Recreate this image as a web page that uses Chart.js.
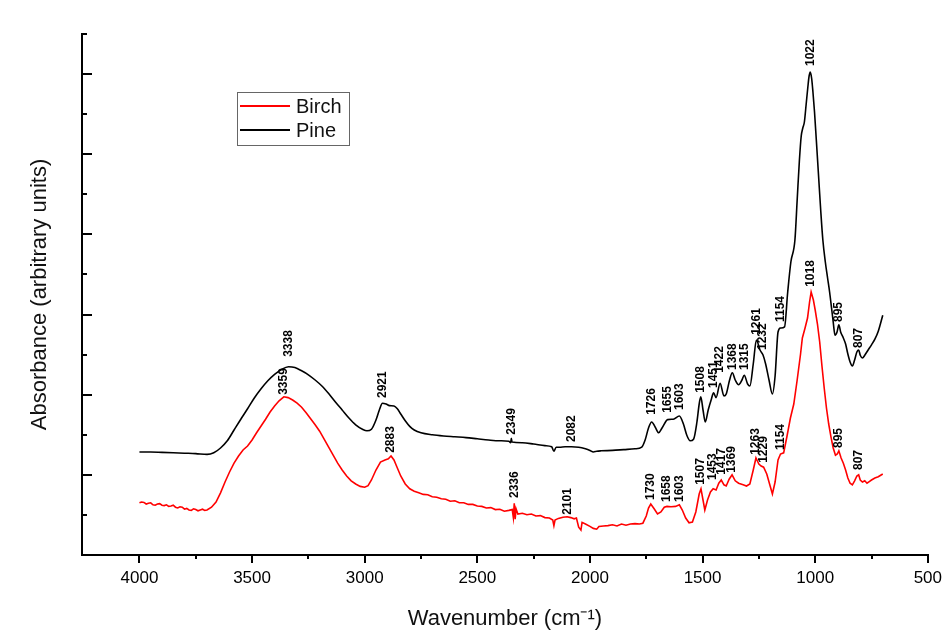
<!DOCTYPE html>
<html>
<head>
<meta charset="utf-8">
<script src="https://cdn.jsdelivr.net/npm/chart.js@4.4.1/dist/chart.umd.min.js"></script>
<style>
  html, body { margin: 0; padding: 0; background: #ffffff; }
  #wrap { width: 947px; height: 632px; position: relative; }
</style>
</head>
<body>
<div id="wrap"><canvas id="c" width="947" height="632"></canvas></div>
<script>
// ---------- DATA ----------
const seriesNames = ['Birch', 'Pine'];

const pineWavenumbers = [4000,3950,3900,3850,3800,3750,3700,3670,3640,3610,3580,3550,3520,3490,3460,3430,3400,3370,3338,3310,3280,3250,3220,3190,3160,3130,3100,3070,3040,3010,2990,2970,2950,2935,2921,2905,2890,2870,2855,2840,2820,2800,2780,2750,2700,2650,2600,2550,2500,2450,2400,2360,2352,2349,2346,2300,2250,2200,2170,2160,2150,2135,2110,2082,2050,2020,2000,1985,1970,1950,1900,1850,1800,1770,1755,1740,1726,1710,1695,1680,1655,1630,1603,1585,1570,1555,1540,1525,1515,1508,1498,1488,1475,1462,1451,1440,1422,1405,1395,1380,1368,1355,1340,1325,1315,1300,1290,1275,1261,1245,1232,1220,1205,1190,1178,1165,1154,1136,1122,1108,1090,1080,1070,1062,1055,1048,1040,1033,1027,1022,1016,1010,1003,995,985,975,966,955,945,936,928,920,912,903,895,887,875,865,855,845,835,825,815,807,800,790,780,765,750,735,720,700];
const pineValues = [2.50,2.50,2.49,2.48,2.47,2.46,2.44,2.48,2.60,2.78,3.05,3.32,3.58,3.85,4.08,4.28,4.44,4.56,4.63,4.61,4.53,4.43,4.30,4.15,3.96,3.75,3.55,3.35,3.18,3.07,3.03,3.07,3.30,3.55,3.72,3.70,3.66,3.65,3.58,3.45,3.28,3.14,3.05,2.98,2.93,2.90,2.88,2.86,2.83,2.80,2.78,2.77,2.73,2.84,2.75,2.73,2.70,2.66,2.63,2.52,2.62,2.62,2.63,2.63,2.62,2.58,2.54,2.50,2.52,2.53,2.54,2.56,2.58,2.62,2.80,3.10,3.25,3.12,2.98,3.10,3.31,3.32,3.40,3.20,2.92,2.78,2.82,3.25,3.70,3.88,3.55,3.25,3.55,3.80,3.98,3.86,4.22,3.90,3.95,4.30,4.48,4.30,4.18,4.30,4.42,4.20,4.15,4.70,5.30,5.05,4.93,4.70,4.30,3.95,4.40,5.50,5.60,5.63,6.50,7.25,7.80,8.80,9.80,10.40,10.60,10.75,11.20,11.60,11.90,12.00,11.85,11.50,11.00,10.30,9.40,8.50,7.80,7.25,6.85,6.50,6.13,5.75,5.42,5.50,5.68,5.50,5.35,5.20,4.95,4.75,4.65,4.80,5.00,5.05,4.92,4.85,4.92,5.05,5.18,5.32,5.52,5.92];

const birchWavenumbers = [4000,3990,3980,3970,3960,3950,3940,3930,3920,3910,3900,3890,3880,3870,3860,3850,3840,3830,3820,3810,3800,3790,3780,3770,3760,3750,3740,3730,3720,3710,3700,3680,3660,3640,3620,3600,3580,3560,3540,3520,3500,3480,3460,3440,3420,3400,3380,3359,3340,3320,3300,3280,3260,3240,3220,3200,3180,3160,3140,3120,3100,3080,3060,3040,3020,3000,2985,2970,2950,2930,2910,2895,2883,2870,2855,2840,2820,2800,2780,2760,2740,2720,2700,2680,2660,2640,2620,2600,2580,2560,2540,2520,2500,2480,2460,2440,2420,2400,2380,2360,2345,2340,2336,2332,2328,2320,2300,2280,2260,2240,2220,2200,2180,2165,2160,2155,2140,2120,2101,2085,2070,2060,2050,2040,2035,2020,2000,1985,1970,1960,1940,1920,1900,1880,1860,1840,1820,1800,1780,1765,1750,1740,1730,1715,1700,1685,1670,1658,1640,1620,1603,1590,1575,1560,1545,1530,1515,1507,1498,1490,1478,1465,1453,1440,1428,1417,1405,1395,1382,1369,1355,1340,1320,1305,1290,1275,1263,1250,1240,1229,1215,1200,1190,1178,1165,1154,1140,1125,1110,1095,1080,1065,1057,1045,1034,1025,1018,1008,1000,990,980,970,960,950,940,930,920,910,902,895,885,875,865,855,845,835,825,815,807,800,790,780,770,760,750,735,720,700];
const birchValues = [1.23,1.25,1.24,1.20,1.22,1.23,1.18,1.17,1.20,1.21,1.17,1.16,1.18,1.14,1.15,1.17,1.12,1.10,1.13,1.12,1.07,1.09,1.05,1.04,1.08,1.06,1.03,1.05,1.07,1.04,1.05,1.12,1.25,1.48,1.75,2.00,2.22,2.40,2.55,2.65,2.80,2.98,3.15,3.32,3.50,3.65,3.78,3.88,3.86,3.80,3.72,3.62,3.48,3.33,3.18,3.02,2.82,2.62,2.42,2.22,2.05,1.90,1.78,1.70,1.64,1.62,1.66,1.80,2.05,2.25,2.30,2.33,2.40,2.30,2.10,1.90,1.70,1.58,1.52,1.48,1.44,1.43,1.38,1.37,1.33,1.32,1.27,1.28,1.23,1.23,1.19,1.19,1.15,1.14,1.10,1.11,1.06,1.07,1.02,1.04,1.06,0.86,1.22,0.82,1.08,0.95,0.97,0.93,0.95,0.90,0.91,0.86,0.85,0.80,0.66,0.80,0.84,0.87,0.88,0.86,0.83,0.85,0.62,0.55,0.74,0.70,0.64,0.59,0.57,0.64,0.65,0.66,0.68,0.65,0.70,0.67,0.70,0.71,0.70,0.72,0.90,1.10,1.20,1.08,0.95,1.00,1.12,1.14,1.13,1.14,1.18,1.05,0.85,0.73,0.75,1.00,1.45,1.58,1.30,1.05,1.30,1.50,1.58,1.55,1.72,1.80,1.68,1.65,1.82,1.93,1.78,1.72,1.68,1.65,1.70,2.05,2.35,2.20,2.15,2.12,1.95,1.65,1.45,1.75,2.30,2.45,2.48,2.90,3.35,3.70,4.30,4.95,5.35,5.60,5.85,6.25,6.50,6.30,6.05,5.70,5.25,4.65,4.10,3.60,3.20,2.88,2.60,2.42,2.45,2.53,2.35,2.22,2.05,1.85,1.72,1.68,1.78,1.90,1.93,1.80,1.75,1.78,1.72,1.76,1.80,1.85,1.88,1.95];

// peak annotations: wavenumber and the value at which the label starts
const pineLabelWavenumbers = [3338,2921,2349,2082,1726,1655,1603,1508,1451,1422,1368,1315,1261,1232,1154,1022,895,807];
const pineLabelValues = [4.88,3.85,2.93,2.75,3.43,3.48,3.55,3.98,4.10,4.48,4.55,4.55,5.43,5.05,5.75,12.15,5.75,5.10];
const birchLabelWavenumbers = [3359,2883,2336,2101,1730,1658,1603,1507,1453,1417,1369,1263,1229,1154,1018,895,807];
const birchLabelValues = [3.93,2.48,1.35,0.93,1.30,1.25,1.25,1.68,1.80,1.93,1.98,2.43,2.23,2.55,6.63,2.60,2.05];

const xMajorTicks = [4000,3500,3000,2500,2000,1500,1000,500];
const xMinorTicks = [3750,3250,2750,2250,1750,1250,750];

// ---------- HELPERS ----------
function toPoints(xs, ys) { return xs.map((x, i) => ({ x: x, y: ys[i] })); }

const Y_MIN = -0.075, Y_MAX = 12.95, Y_DIVS = 13;

const extrasPlugin = {
  id: 'extras',
  afterDraw(chart) {
    const ctx = chart.ctx;
    const xs = chart.scales.x, ys = chart.scales.y;
    const area = chart.chartArea;
    ctx.save();
    // y ticks (inward), alternating major/minor
    ctx.strokeStyle = '#000';
    ctx.lineWidth = 2;
    for (let k = 1; k <= Y_DIVS; k++) {
      const v = Y_MIN + k * (Y_MAX - Y_MIN) / Y_DIVS;
      const py = Math.round(ys.getPixelForValue(v));
      const len = (k % 2 === 0) ? 10 : 5;
      ctx.beginPath();
      ctx.moveTo(area.left, py);
      ctx.lineTo(area.left + len, py);
      ctx.stroke();
    }
    // x minor ticks (outward)
    xMinorTicks.forEach(w => {
      const px = Math.round(xs.getPixelForValue(w));
      ctx.beginPath();
      ctx.moveTo(px, area.bottom);
      ctx.lineTo(px, area.bottom + 4);
      ctx.stroke();
    });
    // peak labels
    ctx.fillStyle = '#000';
    ctx.font = 'bold 12px "Liberation Sans", Arial, sans-serif';
    ctx.textAlign = 'left';
    ctx.textBaseline = 'middle';
    const drawLabels = (wns, vals) => {
      wns.forEach((w, i) => {
        const px = xs.getPixelForValue(w);
        const py = ys.getPixelForValue(vals[i]);
        ctx.save();
        ctx.translate(px, py);
        ctx.rotate(-Math.PI / 2);
        ctx.fillText(String(w), 0, 0);
        ctx.restore();
      });
    };
    drawLabels(pineLabelWavenumbers, pineLabelValues);
    drawLabels(birchLabelWavenumbers, birchLabelValues);

    // legend box
    const bx = 237, by = 92, bw = 112, bh = 53;
    ctx.strokeStyle = '#666';
    ctx.lineWidth = 1;
    ctx.strokeRect(bx + 0.5, by + 0.5, bw, bh);
    const ds = chart.data.datasets;
    const rows = [106, 130];
    ctx.font = '20px "Liberation Sans", Arial, sans-serif';
    ctx.textBaseline = 'middle';
    ds.forEach((d, i) => {
      ctx.strokeStyle = d.borderColor;
      ctx.lineWidth = 1.8;
      ctx.beginPath();
      ctx.moveTo(bx + 3, rows[i]);
      ctx.lineTo(bx + 53, rows[i]);
      ctx.stroke();
      ctx.fillStyle = '#111';
      ctx.fillText(d.label, bx + 59, rows[i] + 1);
    });
    ctx.restore();
  }
};

new Chart(document.getElementById('c'), {
  type: 'line',
  data: {
    datasets: [
      {
        label: seriesNames[0],
        data: toPoints(birchWavenumbers, birchValues),
        borderColor: '#ff0000',
        borderWidth: 1.6,
        pointRadius: 0,
        tension: 0,
        fill: false
      },
      {
        label: seriesNames[1],
        data: toPoints(pineWavenumbers, pineValues),
        borderColor: '#000000',
        borderWidth: 1.6,
        pointRadius: 0,
        cubicInterpolationMode: 'monotone',
        fill: false
      }
    ]
  },
  options: {
    responsive: false,
    animation: false,
    devicePixelRatio: 1,
    layout: { padding: { top: 34, right: 19, left: 0, bottom: 0 } },
    plugins: { legend: { display: false }, tooltip: { enabled: false } },
    scales: {
      x: {
        type: 'linear',
        reverse: true,
        min: 500,
        max: 4255,
        afterFit: (s) => { s.height = 77; },
        afterBuildTicks: (s) => { s.ticks = xMajorTicks.map(v => ({ value: v })); },
        ticks: {
          stepSize: 500,
          includeBounds: false,
          autoSkip: false,
          maxRotation: 0,
          color: '#000',
          padding: 5,
          font: { size: 17, family: '"Liberation Sans", Arial, sans-serif' },
          callback: (v) => String(v)
        },
        grid: {
          display: true,
          drawOnChartArea: false,
          drawTicks: true,
          tickLength: 8,
          color: '#000',
          lineWidth: 2
        },
        border: { display: true, color: '#000', width: 2 },
        title: {
          display: true,
          text: 'Wavenumber (cm⁻¹)',
          color: '#111',
          font: { size: 22, family: '"Liberation Sans", Arial, sans-serif' },
          padding: { top: 0, bottom: 0 }
        }
      },
      y: {
        type: 'linear',
        min: Y_MIN,
        max: Y_MAX,
        afterFit: (s) => { s.width = 82; },
        ticks: { display: false },
        grid: { display: false, drawTicks: false },
        border: { display: true, color: '#000', width: 2 },
        title: {
          display: true,
          text: 'Absorbance (arbitrary units)',
          color: '#111',
          font: { size: 22, family: '"Liberation Sans", Arial, sans-serif' },
          padding: { top: 27, bottom: 0 }
        }
      }
    }
  },
  plugins: [extrasPlugin]
});
</script>
</body>
</html>
